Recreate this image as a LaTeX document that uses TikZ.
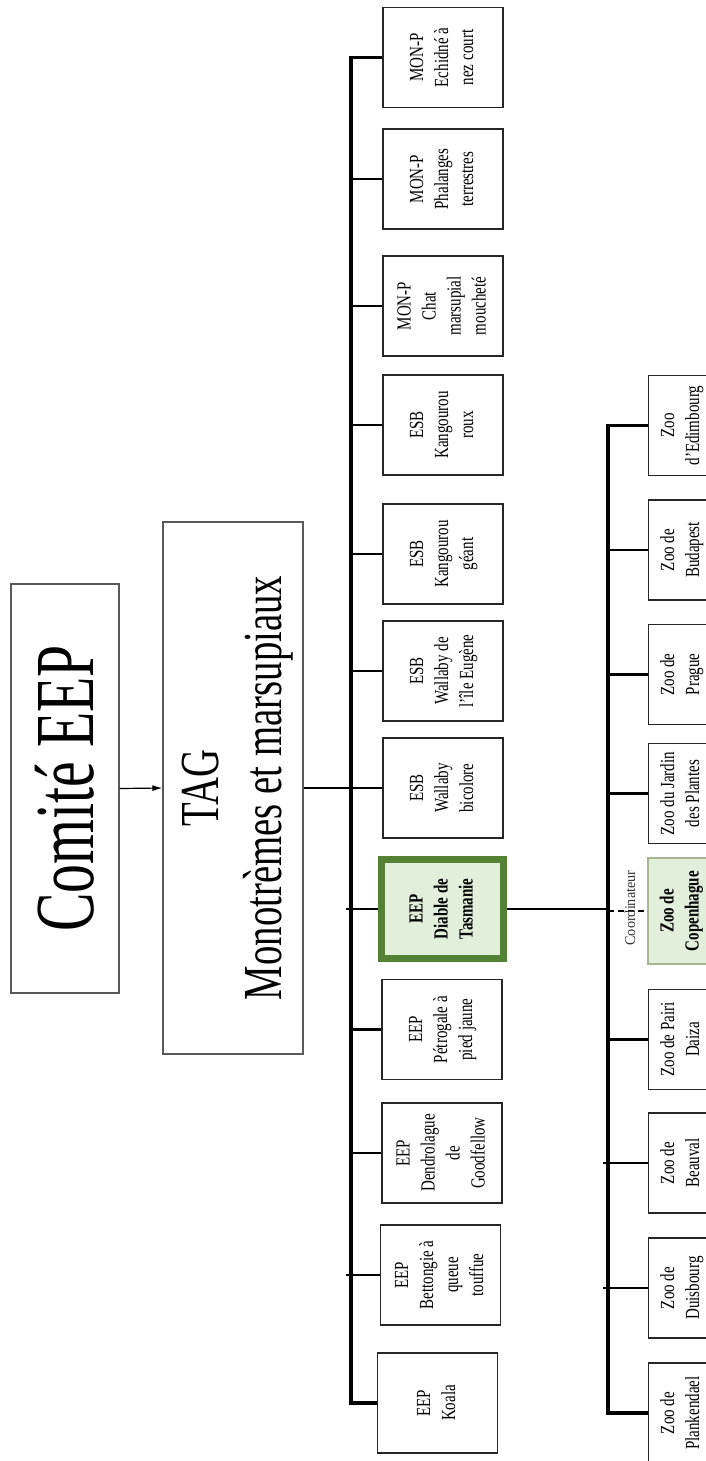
\documentclass[tikz,border=0pt]{standalone}
\usepackage{fontspec}
\setmainfont{Liberation Serif}
\usepackage{graphicx}
\usetikzlibrary{arrows.meta}
\definecolor{dgreen}{RGB}{84,130,53}
\definecolor{lgreen}{RGB}{226,239,218}
\definecolor{cborder}{RGB}{165,180,145}
\newcommand{\VT}[2]{\rotatebox{90}{\scalebox{#1}[1]{\begin{tabular}{@{}c@{}}#2\end{tabular}}}}
\begin{document}
\begin{tikzpicture}[x=1pt,y=-1pt,
  box/.style={draw=black!85, line width=1.2pt, inner sep=0pt, minimum width=120pt, minimum height=100pt, font=\fontsize{20}{25}\selectfont},
  zbox/.style={box, minimum width=66pt},
  big/.style={draw=black!65, line width=1.3pt, inner sep=0pt},
  bus/.style={line width=3.4pt, line join=miter},
  stub/.style={line width=2.8pt},
  link/.style={line width=1.6pt},
]
\path[use as bounding box] (0,0) rectangle (706,1461);
\clip (0,0) rectangle (706,1461);

% top levels
\node[big, minimum width=108pt, minimum height=409pt, font=\fontsize{84}{96}\selectfont] (comite) at (65,788.5) {\rotatebox{90}{\scalebox{.687}[1]{Comité EEP}}};
\node[big, minimum width=140pt, minimum height=532pt, font=\fontsize{55}{63}\selectfont] (tag) at (233,788) {\rotatebox{90}{\raisebox{-4pt}[\height][\depth]{\scalebox{.705}[1]{\begin{tabular}{@{}c@{}}TAG\\Monotrèmes et marsupiaux\end{tabular}}}}};

% programme boxes
\node[box] (echidne) at (443,57.5) {\VT{.75}{MON-P\\Echidné à\\nez court}};
\node[box] (phal) at (443,179) {\VT{.75}{MON-P\\Phalanges\\terrestres}};
\node[box] (chat) at (443,306) {\VT{.75}{MON-P\\Chat\\marsupial\\moucheté}};
\node[box] (kroux) at (443,425) {\VT{.75}{ESB\\Kangourou\\roux}};
\node[box] (kgeant) at (443,554) {\VT{.75}{ESB\\Kangourou\\géant}};
\node[box] (wile) at (443,671) {\VT{.75}{ESB\\Wallaby de\\l'île Eugène}};
\node[box] (bicol) at (443,788) {\VT{.75}{ESB\\Wallaby\\bicolore}};
\node[box, draw=dgreen, fill=lgreen, line width=7pt, minimum width=122pt, minimum height=99pt, font=\fontsize{20}{25}\selectfont\bfseries] (diable) at (442.5,909) {\VT{.75}{EEP\\Diable de\\Tasmanie}};
\node[box] (petro) at (442,1029.5) {\VT{.75}{EEP\\Pétrogale à\\pied jaune}};
\node[box] (dendro) at (442,1153) {\VT{.75}{EEP\\Dendrolague\\de\\Goodfellow}};
\node[box] (betto) at (440.5,1275) {\VT{.75}{EEP\\Bettongie à\\queue\\touffue}};
\node[box] (koala) at (437.5,1403) {\VT{.75}{EEP\\Koala}};

% zoo boxes
\node[zbox] (edim) at (681.5,425.5) {\VT{.75}{Zoo\\d'Edimbourg}};
\node[zbox] (buda) at (681.5,550) {\VT{.75}{Zoo de\\Budapest}};
\node[zbox] (prague) at (681.5,674.5) {\VT{.75}{Zoo de\\Prague}};
\node[zbox] (jardin) at (681.5,793.5) {\VT{.75}{Zoo du Jardin\\des Plantes}};
\node[zbox, fill=lgreen, draw=cborder, minimum height=106pt, font=\fontsize{20}{25}\selectfont\bfseries] (copen) at (681,911) {\VT{.75}{Zoo de\\Copenhague}};
\node[zbox] (pairi) at (681.5,1039.5) {\VT{.75}{Zoo de Pairi\\Daiza}};
\node[zbox] (beauval) at (681.5,1163) {\VT{.75}{Zoo de\\Beauval}};
\node[zbox] (duis) at (681.5,1288) {\VT{.75}{Zoo de\\Duisbourg}};
\node[zbox] (plank) at (681.5,1413) {\VT{.75}{Zoo de\\Plankendael}};

\coordinate (mb) at (351,0);
\coordinate (mbx) at (346,0);
\coordinate (zb) at (608,0);
\coordinate (zbx) at (603,0);

% connectors
\draw[-{Latex[length=10pt,width=6pt]}, line width=1.2pt] (comite.east) -- (tag.west);
\draw[link] (tag.east) -- (tag.east -| mb);
\draw[bus] (echidne.west) -- (echidne.west -| mb) -- (koala.west -| mb) -- (koala.west);
\foreach \n in {phal,chat,kroux,kgeant,wile,bicol,petro,dendro}
  \draw[stub] (\n.west -| mb) -- (\n.west);
\foreach \n in {diable,betto}
  \draw[stub] (\n.west -| mbx) -- (\n.west);
\draw[link] (diable.east) -- (diable.east -| zb);
\draw[bus] (edim.west) -- (edim.west -| zb) -- (plank.west -| zb) -- (plank.west);
\foreach \n in {buda,prague,jardin,pairi}
  \draw[stub] (\n.west -| zb) -- (\n.west);
\foreach \n in {beauval,duis}
  \draw[stub] (\n.west -| zbx) -- (\n.west);
\draw[stub, dash pattern=on 6pt off 4pt] (copen.west -| zb) -- (copen.west);
\node[font=\fontsize{15}{18}\selectfont, inner sep=0pt, text=black!80] (coord) at (630,908) {\rotatebox{90}{\scalebox{.95}[1]{Coordinateur}}};
\end{tikzpicture}
\end{document}
